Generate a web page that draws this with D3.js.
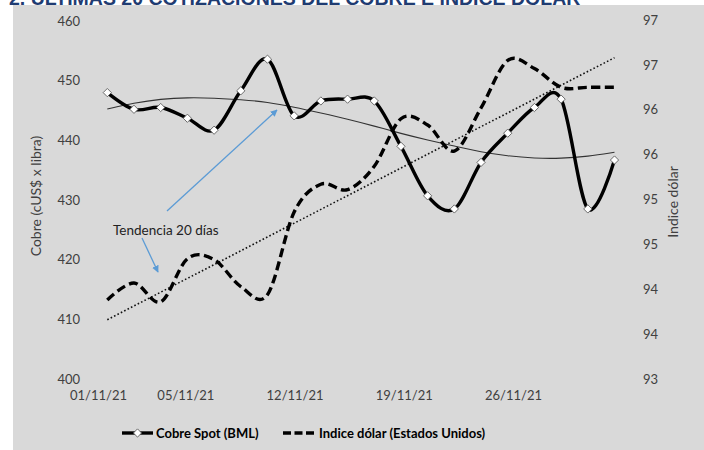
<!DOCTYPE html>
<html>
<head>
<meta charset="utf-8">
<script src="https://cdn.jsdelivr.net/npm/d3@7"></script>
<style>
  html, body { margin: 0; padding: 0; background: #ffffff; }
  svg { display: block; }
</style>
</head>
<body>
<svg id="chart" width="704" height="450"></svg>
<script>
// ---- Data ----
const titleText = "2. ÚLTIMAS 20 COTIZACIONES DEL COBRE E ÍNDICE DÓLAR";
const dates = ["01/11/21","02/11/21","03/11/21","04/11/21","05/11/21",
               "08/11/21","09/11/21","10/11/21","11/11/21","12/11/21",
               "15/11/21","16/11/21","17/11/21","18/11/21","19/11/21",
               "22/11/21","23/11/21","24/11/21","25/11/21","26/11/21"];
const copper = [448.0,445.2,445.5,443.7,441.7,448.3,453.6,444.1,446.6,446.9,
                446.6,439.0,430.7,428.5,436.3,441.2,445.5,446.9,428.5,436.7];
const dollar = [93.88,94.07,93.86,94.34,94.33,94.03,93.94,94.86,95.17,95.11,
                95.37,95.90,95.83,95.54,96.02,96.55,96.46,96.25,96.25,96.25];
const copperTrend = [445.25,446.26,446.93,447.18,447.09,446.84,446.42,445.58,444.58,443.57,
                     442.40,441.14,440.05,439.05,438.04,437.37,436.99,436.95,437.29,437.99];
const dollarTrend = [93.66, 96.58]; // start / end of the linear trend
const xTickLabels = ["01/11/21","05/11/21","12/11/21","19/11/21","26/11/21"];
const leftTicks = [400,410,420,430,440,450,460];
const rightTicks = [93,93.5,94,94.5,95,95.5,96,96.5,97];
const rightTickLabels = ["93","94","94","95","95","96","96","97","97"];
const leftTitle = "Cobre (cUS$ x libra)";
const rightTitle = "Indice dólar";
const annotation = "Tendencia 20 días";
const legendNames = ["Cobre Spot (BML)", "Indice dólar (Estados Unidos)"];

// ---- Drawing ----
const svg = d3.select("#chart");
const font = "Lato, 'Open Sans', sans-serif";
const txt = "#404040";

// title (cut off at the top, as in the reference)
svg.append("text").attr("x", 9).attr("y", 4.5)
  .attr("font-family", "'Liberation Sans', Arial, sans-serif")
  .attr("font-weight", "bold").attr("font-size", 19.5)
  .attr("fill", "#1F3C72").text(titleText);

// gray panel
svg.append("rect").attr("x", 13).attr("y", 5).attr("width", 691).attr("height", 445)
  .attr("fill", "#d9d9d9");

const x = d3.scalePoint().domain(dates).range([107.3, 614.5]);
const xLab = d3.scalePoint().domain(dates).range([98, 513]);
const yL = d3.scaleLinear().domain([400, 460]).range([379, 21]);
const yR = d3.scaleLinear().domain([93, 97]).range([379, 20]);

// left axis
const axL = svg.append("g").attr("transform", "translate(80,0)")
  .call(d3.axisLeft(yL).tickValues(leftTicks).tickSize(0).tickPadding(0));
axL.select(".domain").remove();
axL.selectAll("text").attr("font-family", font).attr("font-size", 13).attr("fill", txt);

// right axis
const axR = svg.append("g").attr("transform", "translate(643,0)")
  .call(d3.axisRight(yR).tickValues(rightTicks).tickSize(0).tickPadding(0)
    .tickFormat((d, i) => rightTickLabels[i]));
axR.select(".domain").remove();
axR.selectAll("text").attr("font-family", font).attr("font-size", 13).attr("fill", txt);

// bottom axis labels
const axB = svg.append("g").attr("transform", "translate(0,391)")
  .call(d3.axisBottom(xLab).tickValues(xTickLabels).tickSize(0).tickPadding(0));
axB.select(".domain").remove();
axB.selectAll("text").attr("font-family", font).attr("font-size", 13).attr("fill", txt);

// axis titles
svg.append("text").attr("transform", "translate(41,196) rotate(-90)")
  .attr("text-anchor", "middle").attr("font-family", font).attr("font-size", 14)
  .attr("fill", txt).text(leftTitle);
svg.append("text").attr("transform", "translate(678,202) rotate(-90)")
  .attr("text-anchor", "middle").attr("font-family", font).attr("font-size", 14)
  .attr("fill", txt).text(rightTitle);

const smooth = d3.curveCatmullRom.alpha(0);

// copper trend (thin)
svg.append("path")
  .attr("d", d3.line().x((d, i) => x(dates[i])).y(d => yL(d)).curve(d3.curveBasis)(copperTrend))
  .attr("fill", "none").attr("stroke", "#333").attr("stroke-width", 1.1);

// dollar trend (dotted)
const trendPts = [[dates[0], dollarTrend[0]], [dates[dates.length - 1], dollarTrend[1]]];
svg.append("path")
  .attr("d", d3.line().x(d => x(d[0])).y(d => yR(d[1]))(trendPts))
  .attr("fill", "none").attr("stroke", "#111").attr("stroke-width", 1.6)
  .attr("stroke-dasharray", "1.6,2.2");

// dollar line (dashed)
svg.append("path")
  .attr("d", d3.line().x((d, i) => x(dates[i])).y(d => yR(d)).curve(smooth)(dollar))
  .attr("fill", "none").attr("stroke", "#000").attr("stroke-width", 3.4)
  .attr("stroke-dasharray", "9,4.5");

// copper line
svg.append("path")
  .attr("d", d3.line().x((d, i) => x(dates[i])).y(d => yL(d)).curve(smooth)(copper))
  .attr("fill", "none").attr("stroke", "#000").attr("stroke-width", 3.4);

const diamond = d3.symbol(d3.symbolSquare, 34);
svg.append("g").selectAll("path").data(copper).join("path")
  .attr("d", diamond)
  .attr("transform", (d, i) => `translate(${x(dates[i])},${yL(d)}) rotate(45)`)
  .attr("fill", "#fff").attr("stroke", "#555").attr("stroke-width", 0.8);

// annotation + arrows
const defs = svg.append("defs");
defs.append("marker").attr("id", "arr").attr("viewBox", "0 0 10 10")
  .attr("refX", 9).attr("refY", 5).attr("markerWidth", 7).attr("markerHeight", 7)
  .attr("orient", "auto-start-reverse").attr("markerUnits", "userSpaceOnUse")
  .append("path").attr("d", "M0,0 L10,5 L0,10 z").attr("fill", "#5B9BD5");
svg.append("line").attr("x1", 167).attr("y1", 211).attr("x2", 277).attr("y2", 110)
  .attr("stroke", "#5B9BD5").attr("stroke-width", 1.3).attr("marker-end", "url(#arr)");
svg.append("line").attr("x1", 142).attr("y1", 238).attr("x2", 158).attr("y2", 272)
  .attr("stroke", "#5B9BD5").attr("stroke-width", 1.3).attr("marker-end", "url(#arr)");
svg.append("text").attr("x", 113).attr("y", 235).attr("font-family", font)
  .attr("font-size", 13.5).attr("fill", "#222").text(annotation);

// legend
const lg = svg.append("g");
lg.append("line").attr("x1", 122).attr("x2", 153).attr("y1", 433).attr("y2", 433)
  .attr("stroke", "#000").attr("stroke-width", 3.4);
lg.append("path").attr("d", diamond).attr("transform", "translate(137.5,433) rotate(45)")
  .attr("fill", "#fff").attr("stroke", "#555").attr("stroke-width", 0.8);
lg.append("text").attr("x", 156).attr("y", 438).attr("font-family", font)
  .attr("font-weight", "bold").attr("font-size", 13).attr("fill", "#000").text(legendNames[0]);
lg.append("line").attr("x1", 283).attr("x2", 314).attr("y1", 433).attr("y2", 433)
  .attr("stroke", "#000").attr("stroke-width", 3.4).attr("stroke-dasharray", "8,3.5");
lg.append("text").attr("x", 319).attr("y", 438).attr("font-family", font)
  .attr("font-weight", "bold").attr("font-size", 13).attr("fill", "#000").text(legendNames[1]);
</script>
</body>
</html>
